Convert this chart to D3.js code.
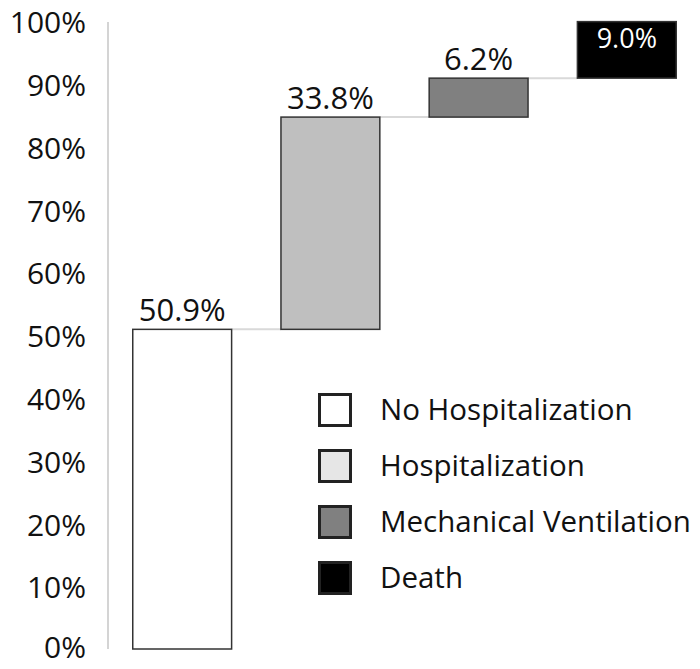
<!DOCTYPE html>
<html><head><meta charset="utf-8">
<script src="https://cdn.jsdelivr.net/npm/d3@7"></script>
<style>body{margin:0;background:#fff}svg{display:block}text{font-family:"Open Sans",sans-serif;fill:#111}</style>
</head><body>
<svg id="c" width="700" height="669"></svg>
<script>
const categories = ["No Hospitalization","Hospitalization","Mechanical Ventilation","Death"];
const values = [50.9, 33.8, 6.2, 9.0];
const barFills = ["#ffffff","#bfbfbf","#808080","#000000"];
const legendFills = ["#ffffff","#e6e6e6","#808080","#000000"];
const tickValues = [0,10,20,30,40,50,60,70,80,90,100];

const svg = d3.select("#c");
const y = d3.scaleLinear().domain([0,100]).range([649,21]);
const x = d3.scaleBand().domain(categories).range([108,701]).paddingInner(0.333).paddingOuter(0.167);

// axis line
svg.append("line").attr("x1",108).attr("x2",108).attr("y1",y(100)+1).attr("y2",y(0)).attr("stroke","#d4d4d4").attr("stroke-width",2);

// tick labels
const axis = d3.axisLeft(y).tickValues(tickValues).tickSize(0).tickPadding(0).tickFormat(d=>d+"%");
const ag = svg.append("g").attr("transform","translate(86,2)").call(axis);
ag.select(".domain").remove();
ag.selectAll("text").style("font-size","30px").attr("fill","#111");
ag.selectAll(".tick").filter(d=>d===0).select("text").attr("dy","0.2em");

// waterfall
let cum = 0;
const rows = categories.map((c,i)=>{const r={c,v:values[i],start:cum,end:cum+values[i],fill:barFills[i]}; cum+=values[i]; return r;});

// connectors
rows.slice(0,-1).forEach((r,i)=>{
  svg.append("line").attr("x1",x(r.c)+x.bandwidth()).attr("x2",x(rows[i+1].c))
    .attr("y1",y(r.end)).attr("y2",y(r.end)).attr("stroke","#d9d9d9").attr("stroke-width",2);
});

svg.selectAll("rect.bar").data(rows).join("rect").attr("class","bar")
  .attr("x",d=>x(d.c)).attr("width",x.bandwidth())
  .attr("y",d=>y(Math.min(d.end,100))).attr("height",d=>y(d.start)-y(Math.min(d.end,100)))
  .attr("fill",d=>d.fill).attr("stroke","#333").attr("stroke-width",1.5);

svg.selectAll("text.val").data(rows).join("text").attr("class","val")
  .attr("x",d=>x(d.c)+x.bandwidth()/2)
  .attr("y",(d,i)=> i===rows.length-1 ? y(100)+27 : y(d.end)-8)
  .attr("text-anchor","middle")
  .style("font-size",(d,i)=> i===rows.length-1 ? "27px" : "31px")
  .style("fill",(d,i)=> i===rows.length-1 ? "#fff" : "#111")
  .text(d=>d.v.toFixed(1)+"%");

// legend
const lg = svg.append("g").attr("transform","translate(318,393)");
const li = lg.selectAll("g").data(categories).join("g").attr("transform",(d,i)=>`translate(0,${i*56})`);
li.append("rect").attr("x",1.5).attr("y",1.5).attr("width",31).attr("height",31)
  .attr("fill",(d,i)=>legendFills[i]).attr("stroke","#222").attr("stroke-width",3);
li.append("text").attr("x",62).attr("y",17).attr("dy","0.35em").style("font-size","29.5px").text(d=>d);
</script>
</body></html>
